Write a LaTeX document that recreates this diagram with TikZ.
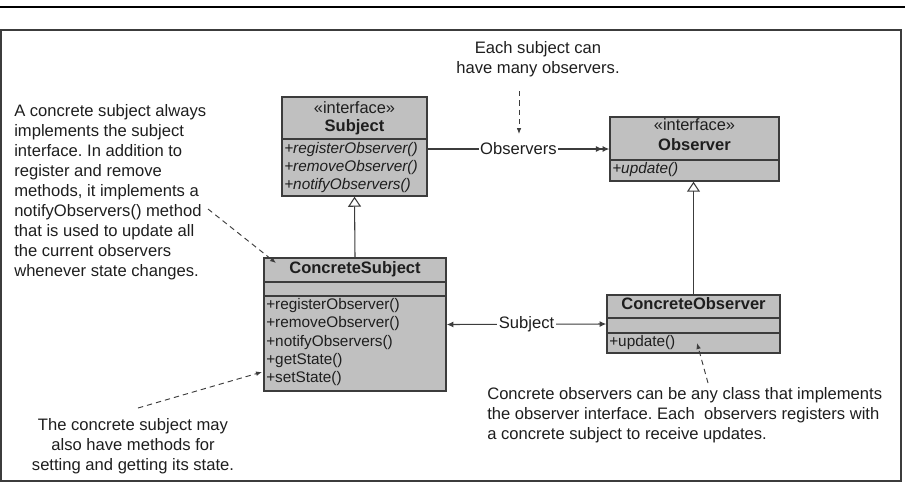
\documentclass[tikz,border=0pt]{standalone}
\usepackage{fontspec}
\setmainfont{Liberation Sans}
\usetikzlibrary{arrows.meta,fit}
\definecolor{boxgray}{RGB}{192,192,192}
\definecolor{linegray}{RGB}{60,60,60}
\definecolor{inkgray}{RGB}{30,30,30}
\frenchspacing

\begin{document}
\begin{tikzpicture}
[x = 0.75pt, y = -0.75pt,
every node/.style = {text = inkgray},
classbox/.style = {draw = linegray, line width = 1.1pt, fill = boxgray, inner sep = 0pt},
divider/.style = {draw = linegray, line width = 1.1pt},
stereo/.style = {font = \fontsize{12.3}{14}\selectfont, inner sep = 0pt, anchor = mid},
cname/.style = {font = \fontsize{12.4}{14}\selectfont\bfseries, inner sep = 0pt, anchor = mid},
op/.style = {font = \fontsize{11.5}{13}\selectfont, inner sep = 0pt, anchor = mid west},
note/.style = {font = \fontsize{12.45}{15}\selectfont, inner sep = 0pt},
lbl/.style = {font = \fontsize{12.45}{15}\selectfont, fill = white, inner sep = 1pt},
assoc/.style = {draw = linegray, line width = 0.8pt},
inherit/.style = {draw = linegray, line width = 0.8pt, -{Triangle[open, length = 7.5pt, width = 9.75pt]}},
hint/.style = {draw = linegray, line width = 0.7pt, dash pattern = on 4pt off 3pt, -{Latex[length = 4.5pt, width = 3.5pt]}}
]
\useasboundingbox (0,0) rectangle (905,482);
\draw [line width = 1pt] (0,7) -- (905,7);
\draw [linegray, line width = 1.5pt] (1,30) rectangle (901,481);

\node [classbox, fit = {(282,97) (427,196)}] (subject) {};
\draw [divider] (subject.west |- 0,139) -- (subject.east |- 0,139);
\node [stereo] (subjectst) at (354.5,110) {«interface»};
\node [cname] (subjectnm) at (354.5,128) {Subject};
\node [op] (subjectop1) at (284,150) {\itshape +registerObserver()};
\node [op] (subjectop2) at (284,168) {\itshape +removeObserver()};
\node [op] (subjectop3) at (284,186) {\itshape +notifyObservers()};

\node [classbox, fit = {(610,117) (779,181)}] (observer) {};
\draw [divider] (observer.west |- 0,160) -- (observer.east |- 0,160);
\node [stereo] (observerst) at (694.5,127) {«interface»};
\node [cname] (observernm) at (694.5,147) {Observer};
\node [op] (observerop1) at (612,170) {\itshape +update()};

\node [classbox, fit = {(264,258) (446,391)}] (csubject) {};
\draw [divider] (csubject.west |- 0,282) -- (csubject.east |- 0,282);
\draw [divider] (csubject.west |- 0,296) -- (csubject.east |- 0,296);
\node [cname] (csubjectnm) at (355,270) {ConcreteSubject};
\node [op] (csubjectop1) at (266,306) {+registerObserver()};
\node [op] (csubjectop2) at (266,324) {+removeObserver()};
\node [op] (csubjectop3) at (266,343) {+notifyObservers()};
\node [op] (csubjectop4) at (266,361) {+getState()};
\node [op] (csubjectop5) at (266,379) {+setState()};

\node [classbox, fit = {(607,295) (780,353)}] (cobserver) {};
\draw [divider] (cobserver.west |- 0,318) -- (cobserver.east |- 0,318);
\draw [divider] (cobserver.west |- 0,333) -- (cobserver.east |- 0,333);
\node [cname] (cobservernm) at (693.5,306) {ConcreteObserver};
\node [op] (cobserverop1) at (609,343) {+update()};

\draw [assoc, -{Latex[length = 5pt, width = 4.5pt]Latex[length = 5pt, width = 4.5pt]}] (subject.east |- observer.west) -- node [lbl] {Observers} (observer.west);
\draw [assoc, {Latex[length = 5pt, width = 4.5pt]}-{Latex[length = 5pt, width = 4.5pt]}] (csubject.east) -- node [lbl] {Subject} (cobserver.west);
\draw [inherit] (csubject.north) -- (subject.south);
\draw [inherit] (cobserver.north) -- (cobserver.north |- observer.south);

\node [note, anchor = north, align = center] (noteeach) at (538,41) {Each subject can\\have many observers.};
\node [note, anchor = north west, align = left] (notecsubject) at (14,104) {A concrete subject always\\implements the subject\\interface. In addition to\\register and remove\\methods, it implements a\\notifyObservers() method\\that is used to update all\\the current observers\\whenever state changes.};
\node [note, anchor = north, align = center] (notestate) at (133,418) {The concrete subject may\\also have methods for\\setting and getting its state.};
\node [note, anchor = north west, align = left] (notecobserver) at (487,387) {Concrete observers can be any class that implements\\the observer interface. Each\ \ observers registers with\\a concrete subject to receive updates.};

\coordinate (fromeach) at (519,91);
\coordinate (toeach) at (519,134);
\coordinate (fromcsubject) at (208,209);
\coordinate (tocsubject) at (276,263);
\coordinate (fromstate) at (138,408);
\coordinate (tostate) at (262,372);
\coordinate (fromcobserver) at (708,383);
\coordinate (tocobserver) at (697,343);
\draw [hint] (fromeach) -- (toeach);
\draw [hint] (fromcsubject) -- (tocsubject);
\draw [hint] (fromstate) -- (tostate);
\draw [hint] (fromcobserver) -- (tocobserver);
\end{tikzpicture}
\end{document}
